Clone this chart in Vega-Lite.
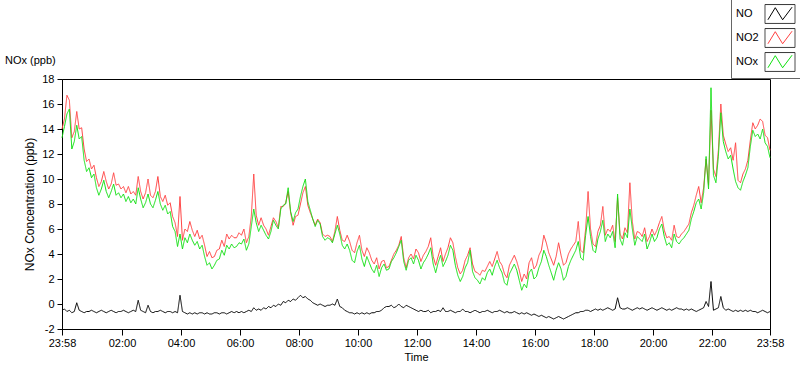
{
"$schema":"https://vega.github.io/schema/vega-lite/v6.json",
"width":708,"height":250,
"autosize":"none",
"padding":{"left":62,"top":79,"right":30,"bottom":40},
"background":"white",
"config":{"font":"Liberation Sans","view":{"stroke":"#000","strokeWidth":1}},
"title":{"text":"NOx (ppb)","anchor":"start","frame":"group","dx":-57,"offset":-67,"fontSize":11,"fontWeight":"normal","color":"#000","font":"Liberation Sans"},
"data":{"values":[
{"t":"2024-01-01T23:58","NO":-0.5,"NO2":14.0,"NOx":13.3},
{"t":"2024-01-02T00:03","NO":-0.4,"NO2":14.8,"NOx":14.2},
{"t":"2024-01-02T00:08","NO":-0.6,"NO2":16.7,"NOx":15.2},
{"t":"2024-01-02T00:13","NO":-0.5,"NO2":16.3,"NOx":15.6},
{"t":"2024-01-02T00:18","NO":-0.7,"NO2":13.3,"NOx":12.4},
{"t":"2024-01-02T00:23","NO":-0.6,"NO2":13.8,"NOx":13.0},
{"t":"2024-01-02T00:28","NO":0.1,"NO2":15.4,"NOx":14.3},
{"t":"2024-01-02T00:33","NO":-0.5,"NO2":14.0,"NOx":13.2},
{"t":"2024-01-02T00:38","NO":-0.6,"NO2":14.1,"NOx":13.4},
{"t":"2024-01-02T00:43","NO":-0.7,"NO2":12.4,"NOx":11.5},
{"t":"2024-01-02T00:48","NO":-0.6,"NO2":11.4,"NOx":10.6},
{"t":"2024-01-02T00:53","NO":-0.6,"NO2":11.6,"NOx":10.9},
{"t":"2024-01-02T00:58","NO":-0.5,"NO2":10.8,"NOx":10.1},
{"t":"2024-01-02T01:03","NO":-0.6,"NO2":11.1,"NOx":10.4},
{"t":"2024-01-02T01:08","NO":-0.7,"NO2":10.1,"NOx":9.3},
{"t":"2024-01-02T01:13","NO":-0.6,"NO2":9.4,"NOx":8.7},
{"t":"2024-01-02T01:18","NO":-0.5,"NO2":9.8,"NOx":9.2},
{"t":"2024-01-02T01:23","NO":-0.6,"NO2":10.6,"NOx":9.9},
{"t":"2024-01-02T01:28","NO":-0.7,"NO2":9.8,"NOx":9.0},
{"t":"2024-01-02T01:33","NO":-0.6,"NO2":9.2,"NOx":8.5},
{"t":"2024-01-02T01:38","NO":-0.5,"NO2":9.6,"NOx":9.0},
{"t":"2024-01-02T01:43","NO":-0.6,"NO2":10.5,"NOx":9.6},
{"t":"2024-01-02T01:48","NO":-0.7,"NO2":9.5,"NOx":8.7},
{"t":"2024-01-02T01:53","NO":-0.6,"NO2":9.6,"NOx":8.9},
{"t":"2024-01-02T01:58","NO":-0.6,"NO2":9.2,"NOx":8.5},
{"t":"2024-01-02T02:03","NO":-0.5,"NO2":9.4,"NOx":8.8},
{"t":"2024-01-02T02:08","NO":-0.6,"NO2":8.9,"NOx":8.2},
{"t":"2024-01-02T02:13","NO":-0.7,"NO2":9.4,"NOx":8.6},
{"t":"2024-01-02T02:18","NO":-0.6,"NO2":8.8,"NOx":8.1},
{"t":"2024-01-02T02:23","NO":-0.5,"NO2":9.0,"NOx":8.4},
{"t":"2024-01-02T02:28","NO":-0.6,"NO2":8.7,"NOx":8.0},
{"t":"2024-01-02T02:33","NO":0.3,"NO2":10.2,"NOx":9.3},
{"t":"2024-01-02T02:38","NO":-0.5,"NO2":9.0,"NOx":8.4},
{"t":"2024-01-02T02:43","NO":-0.6,"NO2":8.4,"NOx":7.7},
{"t":"2024-01-02T02:48","NO":-0.7,"NO2":8.9,"NOx":8.1},
{"t":"2024-01-02T02:53","NO":-0.1,"NO2":10.0,"NOx":8.8},
{"t":"2024-01-02T02:58","NO":-0.6,"NO2":8.7,"NOx":8.0},
{"t":"2024-01-02T03:03","NO":-0.7,"NO2":8.5,"NOx":7.7},
{"t":"2024-01-02T03:08","NO":-0.6,"NO2":9.0,"NOx":8.3},
{"t":"2024-01-02T03:13","NO":-0.6,"NO2":10.2,"NOx":9.0},
{"t":"2024-01-02T03:18","NO":-0.5,"NO2":8.6,"NOx":8.0},
{"t":"2024-01-02T03:23","NO":-0.6,"NO2":8.2,"NOx":7.5},
{"t":"2024-01-02T03:28","NO":-0.7,"NO2":8.7,"NOx":7.9},
{"t":"2024-01-02T03:33","NO":-0.6,"NO2":7.9,"NOx":7.2},
{"t":"2024-01-02T03:38","NO":-0.6,"NO2":8.1,"NOx":7.4},
{"t":"2024-01-02T03:43","NO":-0.7,"NO2":7.0,"NOx":6.2},
{"t":"2024-01-02T03:48","NO":-0.6,"NO2":6.5,"NOx":5.8},
{"t":"2024-01-02T03:53","NO":-0.7,"NO2":5.4,"NOx":4.6},
{"t":"2024-01-02T03:58","NO":0.7,"NO2":8.6,"NOx":5.6},
{"t":"2024-01-02T04:03","NO":-0.6,"NO2":5.1,"NOx":4.4},
{"t":"2024-01-02T04:08","NO":-0.7,"NO2":6.0,"NOx":5.3},
{"t":"2024-01-02T04:13","NO":-0.8,"NO2":5.8,"NOx":4.9},
{"t":"2024-01-02T04:18","NO":-0.7,"NO2":6.6,"NOx":5.6},
{"t":"2024-01-02T04:23","NO":-0.8,"NO2":5.9,"NOx":5.1},
{"t":"2024-01-02T04:28","NO":-0.7,"NO2":5.4,"NOx":4.7},
{"t":"2024-01-02T04:33","NO":-0.8,"NO2":5.9,"NOx":5.0},
{"t":"2024-01-02T04:38","NO":-0.7,"NO2":5.2,"NOx":4.4},
{"t":"2024-01-02T04:43","NO":-0.7,"NO2":5.5,"NOx":4.7},
{"t":"2024-01-02T04:48","NO":-0.8,"NO2":4.7,"NOx":3.8},
{"t":"2024-01-02T04:53","NO":-0.7,"NO2":3.8,"NOx":3.1},
{"t":"2024-01-02T04:58","NO":-0.8,"NO2":4.2,"NOx":3.3},
{"t":"2024-01-02T05:03","NO":-0.8,"NO2":3.7,"NOx":2.8},
{"t":"2024-01-02T05:08","NO":-0.7,"NO2":3.8,"NOx":3.1},
{"t":"2024-01-02T05:13","NO":-0.7,"NO2":4.3,"NOx":3.5},
{"t":"2024-01-02T05:18","NO":-0.8,"NO2":4.4,"NOx":3.6},
{"t":"2024-01-02T05:23","NO":-0.7,"NO2":5.1,"NOx":4.3},
{"t":"2024-01-02T05:28","NO":-0.7,"NO2":4.6,"NOx":3.9},
{"t":"2024-01-02T05:33","NO":-0.8,"NO2":5.6,"NOx":4.7},
{"t":"2024-01-02T05:38","NO":-0.7,"NO2":5.2,"NOx":4.4},
{"t":"2024-01-02T05:43","NO":-0.6,"NO2":5.5,"NOx":4.8},
{"t":"2024-01-02T05:48","NO":-0.7,"NO2":5.3,"NOx":4.5},
{"t":"2024-01-02T05:53","NO":-0.6,"NO2":5.3,"NOx":4.6},
{"t":"2024-01-02T05:58","NO":-0.7,"NO2":5.7,"NOx":4.9},
{"t":"2024-01-02T06:03","NO":-0.6,"NO2":5.5,"NOx":4.8},
{"t":"2024-01-02T06:08","NO":-0.7,"NO2":6.0,"NOx":5.2},
{"t":"2024-01-02T06:13","NO":-0.6,"NO2":4.9,"NOx":4.3},
{"t":"2024-01-02T06:18","NO":-0.5,"NO2":5.4,"NOx":4.8},
{"t":"2024-01-02T06:23","NO":-0.6,"NO2":7.0,"NOx":6.2},
{"t":"2024-01-02T06:28","NO":-0.3,"NO2":10.4,"NOx":7.6},
{"t":"2024-01-02T06:33","NO":-0.5,"NO2":7.1,"NOx":6.5},
{"t":"2024-01-02T06:38","NO":-0.4,"NO2":6.3,"NOx":5.8},
{"t":"2024-01-02T06:43","NO":-0.5,"NO2":6.9,"NOx":6.3},
{"t":"2024-01-02T06:48","NO":-0.3,"NO2":6.3,"NOx":5.9},
{"t":"2024-01-02T06:53","NO":-0.4,"NO2":6.0,"NOx":5.5},
{"t":"2024-01-02T06:58","NO":-0.2,"NO2":5.5,"NOx":5.2},
{"t":"2024-01-02T07:03","NO":-0.3,"NO2":6.2,"NOx":5.8},
{"t":"2024-01-02T07:08","NO":-0.1,"NO2":6.9,"NOx":6.7},
{"t":"2024-01-02T07:13","NO":-0.2,"NO2":6.6,"NOx":6.3},
{"t":"2024-01-02T07:18","NO":0.0,"NO2":6.1,"NOx":6.0},
{"t":"2024-01-02T07:23","NO":-0.1,"NO2":7.8,"NOx":7.6},
{"t":"2024-01-02T07:28","NO":0.2,"NO2":7.8,"NOx":7.9},
{"t":"2024-01-02T07:33","NO":0.1,"NO2":8.1,"NOx":8.0},
{"t":"2024-01-02T07:38","NO":0.3,"NO2":9.0,"NOx":9.3},
{"t":"2024-01-02T07:43","NO":0.2,"NO2":7.3,"NOx":7.4},
{"t":"2024-01-02T07:48","NO":0.4,"NO2":6.3,"NOx":6.6},
{"t":"2024-01-02T07:53","NO":0.3,"NO2":7.0,"NOx":7.3},
{"t":"2024-01-02T07:58","NO":0.5,"NO2":7.1,"NOx":7.6},
{"t":"2024-01-02T08:03","NO":0.7,"NO2":8.0,"NOx":8.6},
{"t":"2024-01-02T08:08","NO":0.5,"NO2":8.9,"NOx":9.4},
{"t":"2024-01-02T08:13","NO":0.6,"NO2":9.4,"NOx":10.0},
{"t":"2024-01-02T08:18","NO":0.4,"NO2":7.9,"NOx":8.2},
{"t":"2024-01-02T08:23","NO":0.3,"NO2":7.3,"NOx":7.5},
{"t":"2024-01-02T08:28","NO":0.1,"NO2":6.8,"NOx":6.8},
{"t":"2024-01-02T08:33","NO":0.0,"NO2":6.3,"NOx":6.2},
{"t":"2024-01-02T08:38","NO":-0.1,"NO2":6.8,"NOx":6.7},
{"t":"2024-01-02T08:43","NO":0.0,"NO2":6.5,"NOx":6.4},
{"t":"2024-01-02T08:48","NO":-0.1,"NO2":5.6,"NOx":5.4},
{"t":"2024-01-02T08:53","NO":-0.2,"NO2":5.4,"NOx":5.1},
{"t":"2024-01-02T08:58","NO":-0.1,"NO2":5.5,"NOx":5.3},
{"t":"2024-01-02T09:03","NO":-0.1,"NO2":5.4,"NOx":5.2},
{"t":"2024-01-02T09:08","NO":0.0,"NO2":5.0,"NOx":4.9},
{"t":"2024-01-02T09:13","NO":-0.1,"NO2":5.8,"NOx":5.6},
{"t":"2024-01-02T09:18","NO":0.4,"NO2":7.0,"NOx":6.3},
{"t":"2024-01-02T09:23","NO":-0.2,"NO2":5.9,"NOx":5.6},
{"t":"2024-01-02T09:28","NO":-0.3,"NO2":5.1,"NOx":4.7},
{"t":"2024-01-02T09:33","NO":-0.5,"NO2":5.0,"NOx":4.4},
{"t":"2024-01-02T09:38","NO":-0.6,"NO2":5.5,"NOx":4.8},
{"t":"2024-01-02T09:43","NO":-0.7,"NO2":5.0,"NOx":4.3},
{"t":"2024-01-02T09:48","NO":-0.7,"NO2":4.3,"NOx":3.5},
{"t":"2024-01-02T09:53","NO":-0.8,"NO2":4.1,"NOx":3.3},
{"t":"2024-01-02T09:58","NO":-0.7,"NO2":4.9,"NOx":4.2},
{"t":"2024-01-02T10:03","NO":-0.8,"NO2":5.5,"NOx":4.7},
{"t":"2024-01-02T10:08","NO":-0.7,"NO2":4.3,"NOx":3.6},
{"t":"2024-01-02T10:13","NO":-0.8,"NO2":3.8,"NOx":3.0},
{"t":"2024-01-02T10:18","NO":-0.7,"NO2":4.5,"NOx":3.8},
{"t":"2024-01-02T10:23","NO":-0.8,"NO2":4.1,"NOx":3.3},
{"t":"2024-01-02T10:28","NO":-0.7,"NO2":3.5,"NOx":2.8},
{"t":"2024-01-02T10:33","NO":-0.7,"NO2":3.2,"NOx":2.5},
{"t":"2024-01-02T10:38","NO":-0.6,"NO2":3.7,"NOx":3.1},
{"t":"2024-01-02T10:43","NO":-0.6,"NO2":2.8,"NOx":2.2},
{"t":"2024-01-02T10:48","NO":-0.5,"NO2":3.4,"NOx":2.9},
{"t":"2024-01-02T10:53","NO":-0.3,"NO2":3.5,"NOx":3.2},
{"t":"2024-01-02T10:58","NO":-0.2,"NO2":2.9,"NOx":2.7},
{"t":"2024-01-02T11:03","NO":-0.2,"NO2":3.0,"NOx":2.8},
{"t":"2024-01-02T11:08","NO":-0.1,"NO2":3.5,"NOx":3.4},
{"t":"2024-01-02T11:13","NO":-0.3,"NO2":4.0,"NOx":3.7},
{"t":"2024-01-02T11:18","NO":-0.2,"NO2":4.3,"NOx":4.1},
{"t":"2024-01-02T11:23","NO":0.0,"NO2":4.7,"NOx":4.6},
{"t":"2024-01-02T11:28","NO":-0.2,"NO2":5.4,"NOx":5.1},
{"t":"2024-01-02T11:33","NO":-0.3,"NO2":3.7,"NOx":3.4},
{"t":"2024-01-02T11:38","NO":-0.1,"NO2":2.9,"NOx":2.7},
{"t":"2024-01-02T11:43","NO":-0.2,"NO2":3.7,"NOx":3.5},
{"t":"2024-01-02T11:48","NO":-0.3,"NO2":4.0,"NOx":3.7},
{"t":"2024-01-02T11:53","NO":-0.4,"NO2":3.6,"NOx":3.2},
{"t":"2024-01-02T11:58","NO":-0.5,"NO2":4.4,"NOx":3.9},
{"t":"2024-01-02T12:03","NO":-0.6,"NO2":4.1,"NOx":3.5},
{"t":"2024-01-02T12:08","NO":-0.5,"NO2":3.4,"NOx":2.8},
{"t":"2024-01-02T12:13","NO":-0.6,"NO2":3.9,"NOx":3.3},
{"t":"2024-01-02T12:18","NO":-0.6,"NO2":4.2,"NOx":3.6},
{"t":"2024-01-02T12:23","NO":-0.5,"NO2":4.6,"NOx":4.0},
{"t":"2024-01-02T12:28","NO":-0.7,"NO2":5.3,"NOx":4.5},
{"t":"2024-01-02T12:33","NO":-0.6,"NO2":3.8,"NOx":3.2},
{"t":"2024-01-02T12:38","NO":-0.6,"NO2":3.1,"NOx":2.5},
{"t":"2024-01-02T12:43","NO":-0.5,"NO2":3.8,"NOx":3.3},
{"t":"2024-01-02T12:48","NO":-0.6,"NO2":4.5,"NOx":3.9},
{"t":"2024-01-02T12:53","NO":-0.3,"NO2":3.4,"NOx":3.0},
{"t":"2024-01-02T12:58","NO":-0.6,"NO2":4.0,"NOx":3.4},
{"t":"2024-01-02T13:03","NO":-0.6,"NO2":4.5,"NOx":3.9},
{"t":"2024-01-02T13:08","NO":-0.5,"NO2":5.3,"NOx":4.7},
{"t":"2024-01-02T13:13","NO":-0.6,"NO2":4.9,"NOx":4.3},
{"t":"2024-01-02T13:18","NO":-0.7,"NO2":3.8,"NOx":3.1},
{"t":"2024-01-02T13:23","NO":-0.6,"NO2":2.9,"NOx":2.3},
{"t":"2024-01-02T13:28","NO":-0.6,"NO2":2.4,"NOx":1.8},
{"t":"2024-01-02T13:33","NO":-0.4,"NO2":2.7,"NOx":2.2},
{"t":"2024-01-02T13:38","NO":-0.6,"NO2":3.5,"NOx":2.9},
{"t":"2024-01-02T13:43","NO":-0.6,"NO2":3.9,"NOx":3.3},
{"t":"2024-01-02T13:48","NO":-0.7,"NO2":4.5,"NOx":4.3},
{"t":"2024-01-02T13:53","NO":-0.6,"NO2":3.2,"NOx":2.6},
{"t":"2024-01-02T13:58","NO":-0.5,"NO2":2.6,"NOx":2.1},
{"t":"2024-01-02T14:03","NO":-0.6,"NO2":2.5,"NOx":1.9},
{"t":"2024-01-02T14:08","NO":-0.7,"NO2":2.3,"NOx":1.6},
{"t":"2024-01-02T14:13","NO":-0.6,"NO2":2.7,"NOx":2.1},
{"t":"2024-01-02T14:18","NO":-0.6,"NO2":2.6,"NOx":1.9},
{"t":"2024-01-02T14:23","NO":-0.5,"NO2":3.0,"NOx":2.5},
{"t":"2024-01-02T14:28","NO":-0.6,"NO2":3.4,"NOx":2.8},
{"t":"2024-01-02T14:33","NO":-0.7,"NO2":3.0,"NOx":2.3},
{"t":"2024-01-02T14:38","NO":-0.6,"NO2":3.6,"NOx":3.0},
{"t":"2024-01-02T14:43","NO":-0.6,"NO2":4.2,"NOx":3.5},
{"t":"2024-01-02T14:48","NO":-0.5,"NO2":3.4,"NOx":2.9},
{"t":"2024-01-02T14:53","NO":-0.6,"NO2":3.1,"NOx":2.5},
{"t":"2024-01-02T14:58","NO":-0.7,"NO2":2.4,"NOx":1.7},
{"t":"2024-01-02T15:03","NO":-0.6,"NO2":2.1,"NOx":1.5},
{"t":"2024-01-02T15:08","NO":-0.7,"NO2":3.1,"NOx":2.4},
{"t":"2024-01-02T15:13","NO":-0.7,"NO2":3.5,"NOx":2.8},
{"t":"2024-01-02T15:18","NO":-0.6,"NO2":3.9,"NOx":3.2},
{"t":"2024-01-02T15:23","NO":-0.7,"NO2":3.4,"NOx":2.7},
{"t":"2024-01-02T15:28","NO":-0.8,"NO2":2.7,"NOx":1.9},
{"t":"2024-01-02T15:33","NO":-0.7,"NO2":1.8,"NOx":1.1},
{"t":"2024-01-02T15:38","NO":-0.8,"NO2":2.4,"NOx":1.6},
{"t":"2024-01-02T15:43","NO":-0.7,"NO2":2.0,"NOx":1.3},
{"t":"2024-01-02T15:48","NO":-0.8,"NO2":3.3,"NOx":2.5},
{"t":"2024-01-02T15:53","NO":-0.9,"NO2":3.7,"NOx":2.8},
{"t":"2024-01-02T15:58","NO":-0.8,"NO2":2.8,"NOx":2.0},
{"t":"2024-01-02T16:03","NO":-0.9,"NO2":3.1,"NOx":2.2},
{"t":"2024-01-02T16:08","NO":-1.0,"NO2":3.9,"NOx":2.9},
{"t":"2024-01-02T16:13","NO":-0.9,"NO2":4.3,"NOx":3.4},
{"t":"2024-01-02T16:18","NO":-1.0,"NO2":5.5,"NOx":4.3},
{"t":"2024-01-02T16:23","NO":-1.1,"NO2":4.9,"NOx":3.8},
{"t":"2024-01-02T16:28","NO":-1.0,"NO2":4.1,"NOx":3.1},
{"t":"2024-01-02T16:33","NO":-1.1,"NO2":3.6,"NOx":2.5},
{"t":"2024-01-02T16:38","NO":-1.2,"NO2":3.1,"NOx":1.9},
{"t":"2024-01-02T16:43","NO":-1.1,"NO2":3.8,"NOx":2.7},
{"t":"2024-01-02T16:48","NO":-1.0,"NO2":4.9,"NOx":3.3},
{"t":"2024-01-02T16:53","NO":-1.1,"NO2":3.9,"NOx":2.8},
{"t":"2024-01-02T16:58","NO":-1.2,"NO2":3.1,"NOx":1.9},
{"t":"2024-01-02T17:03","NO":-1.1,"NO2":3.3,"NOx":2.2},
{"t":"2024-01-02T17:08","NO":-1.0,"NO2":4.0,"NOx":3.0},
{"t":"2024-01-02T17:13","NO":-0.9,"NO2":4.4,"NOx":3.5},
{"t":"2024-01-02T17:18","NO":-0.8,"NO2":4.7,"NOx":3.9},
{"t":"2024-01-02T17:23","NO":-0.7,"NO2":5.0,"NOx":4.3},
{"t":"2024-01-02T17:28","NO":-0.7,"NO2":6.6,"NOx":5.0},
{"t":"2024-01-02T17:33","NO":-0.6,"NO2":4.3,"NOx":3.7},
{"t":"2024-01-02T17:38","NO":-0.6,"NO2":4.1,"NOx":3.5},
{"t":"2024-01-02T17:43","NO":-0.5,"NO2":6.0,"NOx":5.5},
{"t":"2024-01-02T17:48","NO":-0.5,"NO2":9.0,"NOx":7.0},
{"t":"2024-01-02T17:53","NO":-0.6,"NO2":6.0,"NOx":5.4},
{"t":"2024-01-02T17:58","NO":-0.5,"NO2":4.8,"NOx":4.3},
{"t":"2024-01-02T18:03","NO":-0.4,"NO2":4.6,"NOx":4.1},
{"t":"2024-01-02T18:08","NO":-0.5,"NO2":5.8,"NOx":5.2},
{"t":"2024-01-02T18:13","NO":-0.4,"NO2":6.3,"NOx":5.8},
{"t":"2024-01-02T18:18","NO":-0.5,"NO2":7.8,"NOx":6.7},
{"t":"2024-01-02T18:23","NO":-0.4,"NO2":5.5,"NOx":5.0},
{"t":"2024-01-02T18:28","NO":-0.3,"NO2":6.0,"NOx":5.6},
{"t":"2024-01-02T18:33","NO":-0.4,"NO2":5.8,"NOx":5.3},
{"t":"2024-01-02T18:38","NO":-0.5,"NO2":6.3,"NOx":5.8},
{"t":"2024-01-02T18:43","NO":-0.4,"NO2":5.0,"NOx":4.5},
{"t":"2024-01-02T18:48","NO":0.5,"NO2":8.5,"NOx":8.8},
{"t":"2024-01-02T18:53","NO":-0.3,"NO2":5.6,"NOx":5.2},
{"t":"2024-01-02T18:58","NO":-0.4,"NO2":5.2,"NOx":4.7},
{"t":"2024-01-02T19:03","NO":-0.4,"NO2":6.1,"NOx":5.7},
{"t":"2024-01-02T19:08","NO":-0.3,"NO2":5.7,"NOx":5.3},
{"t":"2024-01-02T19:13","NO":-0.4,"NO2":9.7,"NOx":7.6},
{"t":"2024-01-02T19:18","NO":-0.5,"NO2":6.6,"NOx":6.0},
{"t":"2024-01-02T19:23","NO":-0.4,"NO2":5.2,"NOx":4.7},
{"t":"2024-01-02T19:28","NO":-0.3,"NO2":5.8,"NOx":5.4},
{"t":"2024-01-02T19:33","NO":-0.4,"NO2":5.7,"NOx":5.2},
{"t":"2024-01-02T19:38","NO":-0.3,"NO2":5.4,"NOx":5.0},
{"t":"2024-01-02T19:43","NO":-0.4,"NO2":6.1,"NOx":5.6},
{"t":"2024-01-02T19:48","NO":-0.5,"NO2":5.0,"NOx":4.4},
{"t":"2024-01-02T19:53","NO":-0.4,"NO2":5.4,"NOx":4.9},
{"t":"2024-01-02T19:58","NO":-0.3,"NO2":6.0,"NOx":5.6},
{"t":"2024-01-02T20:03","NO":-0.4,"NO2":5.5,"NOx":5.0},
{"t":"2024-01-02T20:08","NO":-0.5,"NO2":5.9,"NOx":5.3},
{"t":"2024-01-02T20:13","NO":-0.4,"NO2":6.5,"NOx":6.0},
{"t":"2024-01-02T20:18","NO":-0.3,"NO2":7.0,"NOx":6.4},
{"t":"2024-01-02T20:23","NO":-0.4,"NO2":5.9,"NOx":5.4},
{"t":"2024-01-02T20:28","NO":-0.5,"NO2":5.3,"NOx":4.7},
{"t":"2024-01-02T20:33","NO":-0.4,"NO2":5.4,"NOx":4.9},
{"t":"2024-01-02T20:38","NO":-0.5,"NO2":5.1,"NOx":4.5},
{"t":"2024-01-02T20:43","NO":-0.4,"NO2":6.3,"NOx":5.6},
{"t":"2024-01-02T20:48","NO":-0.3,"NO2":5.4,"NOx":5.0},
{"t":"2024-01-02T20:53","NO":-0.4,"NO2":5.3,"NOx":4.8},
{"t":"2024-01-02T20:58","NO":-0.4,"NO2":5.6,"NOx":5.1},
{"t":"2024-01-02T21:03","NO":-0.5,"NO2":5.8,"NOx":5.3},
{"t":"2024-01-02T21:08","NO":-0.4,"NO2":6.1,"NOx":5.6},
{"t":"2024-01-02T21:13","NO":-0.5,"NO2":6.4,"NOx":5.9},
{"t":"2024-01-02T21:18","NO":-0.4,"NO2":7.3,"NOx":6.8},
{"t":"2024-01-02T21:23","NO":-0.5,"NO2":7.9,"NOx":7.4},
{"t":"2024-01-02T21:28","NO":-0.6,"NO2":8.7,"NOx":8.1},
{"t":"2024-01-02T21:33","NO":-0.5,"NO2":9.4,"NOx":8.4},
{"t":"2024-01-02T21:38","NO":-0.4,"NO2":8.1,"NOx":7.6},
{"t":"2024-01-02T21:43","NO":-0.3,"NO2":9.3,"NOx":8.9},
{"t":"2024-01-02T21:48","NO":0.2,"NO2":11.6,"NOx":11.8},
{"t":"2024-01-02T21:53","NO":-0.2,"NO2":9.5,"NOx":9.2},
{"t":"2024-01-02T21:58","NO":1.8,"NO2":15.5,"NOx":17.3},
{"t":"2024-01-02T22:03","NO":-0.5,"NO2":10.8,"NOx":10.3},
{"t":"2024-01-02T22:08","NO":-0.4,"NO2":10.2,"NOx":9.7},
{"t":"2024-01-02T22:13","NO":-0.3,"NO2":12.3,"NOx":11.8},
{"t":"2024-01-02T22:18","NO":0.6,"NO2":16.0,"NOx":15.3},
{"t":"2024-01-02T22:23","NO":-0.3,"NO2":13.5,"NOx":13.0},
{"t":"2024-01-02T22:28","NO":-0.5,"NO2":12.8,"NOx":12.2},
{"t":"2024-01-02T22:33","NO":-0.4,"NO2":12.2,"NOx":11.6},
{"t":"2024-01-02T22:38","NO":-0.5,"NO2":12.5,"NOx":11.9},
{"t":"2024-01-02T22:43","NO":-0.6,"NO2":11.5,"NOx":10.8},
{"t":"2024-01-02T22:48","NO":-0.5,"NO2":12.9,"NOx":9.8},
{"t":"2024-01-02T22:53","NO":-0.6,"NO2":9.9,"NOx":9.3},
{"t":"2024-01-02T22:58","NO":-0.5,"NO2":9.7,"NOx":9.1},
{"t":"2024-01-02T23:03","NO":-0.6,"NO2":10.4,"NOx":9.8},
{"t":"2024-01-02T23:08","NO":-0.5,"NO2":10.8,"NOx":10.3},
{"t":"2024-01-02T23:13","NO":-0.6,"NO2":11.5,"NOx":10.9},
{"t":"2024-01-02T23:18","NO":-0.5,"NO2":13.1,"NOx":12.6},
{"t":"2024-01-02T23:23","NO":-0.6,"NO2":14.5,"NOx":13.9},
{"t":"2024-01-02T23:28","NO":-0.6,"NO2":14.0,"NOx":13.4},
{"t":"2024-01-02T23:33","NO":-0.7,"NO2":14.3,"NOx":13.6},
{"t":"2024-01-02T23:38","NO":-0.6,"NO2":14.8,"NOx":13.2},
{"t":"2024-01-02T23:43","NO":-0.5,"NO2":14.6,"NOx":14.0},
{"t":"2024-01-02T23:48","NO":-0.6,"NO2":13.5,"NOx":12.9},
{"t":"2024-01-02T23:53","NO":-0.7,"NO2":13.3,"NOx":12.6},
{"t":"2024-01-02T23:58","NO":-0.6,"NO2":12.3,"NOx":11.7}
]},
"transform":[{"fold":["NO","NO2","NOx"],"as":["series","value"]}],
"mark":{"type":"line","strokeWidth":1},
"encoding":{
  "y":{"field":"value","type":"quantitative",
    "scale":{"domain":[-2,18],"nice":false,"zero":false},
    "axis":{"values":[-2,0,2,4,6,8,10,12,14,16,18],"labelExpr":"'' + datum.value","grid":false,"tickSize":5,"tickColor":"#000","domainColor":"#000","labelColor":"#000","labelFontSize":11,"labelPadding":3,
      "title":"NOx Concentration (ppb)","titleFontSize":12,"titleFontWeight":"normal","titleColor":"#000","titlePadding":5}},
  "x":{"field":"t","type":"temporal",
     "scale":{"domain":[{"year":2024,"month":1,"date":1,"hours":23,"minutes":58},{"year":2024,"month":1,"date":2,"hours":23,"minutes":58}],"nice":false},
     "axis":{"values":[
       {"year":2024,"month":1,"date":1,"hours":23,"minutes":58},
       {"year":2024,"month":1,"date":2,"hours":2,"minutes":0},
       {"year":2024,"month":1,"date":2,"hours":4,"minutes":0},
       {"year":2024,"month":1,"date":2,"hours":6,"minutes":0},
       {"year":2024,"month":1,"date":2,"hours":8,"minutes":0},
       {"year":2024,"month":1,"date":2,"hours":10,"minutes":0},
       {"year":2024,"month":1,"date":2,"hours":12,"minutes":0},
       {"year":2024,"month":1,"date":2,"hours":14,"minutes":0},
       {"year":2024,"month":1,"date":2,"hours":16,"minutes":0},
       {"year":2024,"month":1,"date":2,"hours":18,"minutes":0},
       {"year":2024,"month":1,"date":2,"hours":20,"minutes":0},
       {"year":2024,"month":1,"date":2,"hours":22,"minutes":0},
       {"year":2024,"month":1,"date":2,"hours":23,"minutes":58}],
       "format":"%H:%M","labelOverlap":false,"labelFlush":false,"grid":false,"tickSize":6,"tickColor":"#000","domainColor":"#000","labelColor":"#000","labelFontSize":11,"labelPadding":2,
       "title":"Time","titleFontSize":11,"titleFontWeight":"normal","titleColor":"#000","titlePadding":3}},
   "color":{"field":"series","type":"nominal",
     "scale":{"domain":["NO","NO2","NOx"],"range":["#000000","#ff4040","#10e010"]},
     "legend":{"orient":"none","legendX":669,"legendY":-80,"direction":"vertical","title":null,
       "symbolType":"M-1.43,-0.9M1.43,0.9M-1.15,0.55L-0.45,-0.6L0.25,0.55L1.15,-0.65","symbolSize":441,"symbolStrokeWidth":1,"symbolFillColor":"transparent",
       "labelFontSize":11,"labelColor":"#000","labelOffset":-55,"symbolOffset":34,"padding":4,"rowPadding":0,
       "strokeColor":"#666"}},
   "strokeDash":{"field":"series","type":"nominal",
     "scale":{"range":[[1,0],[1,0],[1,0]]},
     "legend":{"orient":"none","legendX":669,"legendY":-80,"direction":"vertical","title":null,
       "symbolType":"M-1.43,-0.9H1.43V0.9H-1.43Z","symbolSize":441,"symbolStrokeWidth":1,"symbolFillColor":"transparent","symbolStrokeColor":"#333",
       "labelFontSize":11,"labelColor":"#000","labelOpacity":0,"labelOffset":-55,"symbolOffset":34,"padding":4,"rowPadding":0}}
}
}
